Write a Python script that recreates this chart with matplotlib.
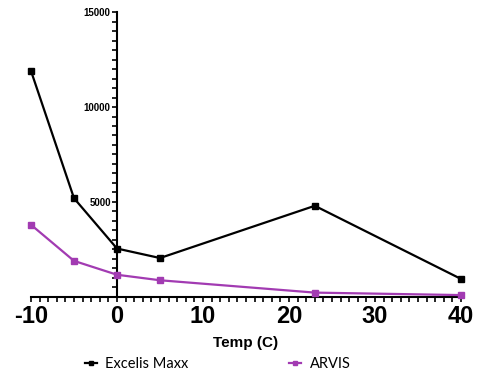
import matplotlib

matplotlib.use("Agg")
import matplotlib.pyplot as plt
from matplotlib.ticker import MultipleLocator

# values
temps = [-10, -5, 0, 5, 23, 40]
excelis = [11900, 5200, 2550, 2050, 4800, 950]
arvis = [3800, 1900, 1170, 880, 230, 100]
series_names = ["Excelis Maxx", "ARVIS"]
x_ticks = [-10, 0, 10, 20, 30, 40]
y_ticks = [5000, 10000, 15000]

plt.rcParams["font.family"] = ["Liberation Sans", "DejaVu Sans"]
plt.rcParams["axes.unicode_minus"] = False

fig = plt.figure(figsize=(4.85, 3.73), dpi=100)
ax = fig.add_axes([0.0639, 0.2038, 0.8866, 0.764])

ax.plot(temps, excelis, "-s", color="black", lw=1.6, ms=4, clip_on=False,
        label=series_names[0], zorder=3)
ax.plot(temps, arvis, "-s", color="#a23bb2", lw=1.6, ms=4, clip_on=False,
        label=series_names[1], zorder=3)

ax.set_xlim(-10, 40)
ax.set_ylim(0, 15000)
ax.spines["left"].set_position(("data", 0))
ax.spines["right"].set_visible(False)
ax.spines["top"].set_visible(False)
for s in ("left", "bottom"):
    ax.spines[s].set_linewidth(1.5)

ax.set_xticks(x_ticks)
ax.xaxis.set_minor_locator(MultipleLocator(1))
ax.set_yticks(y_ticks)
ax.yaxis.set_minor_locator(MultipleLocator(500))
ax.tick_params(axis="x", which="both", direction="out", length=3.5, width=1.2, labelsize=17, pad=2)
ax.tick_params(axis="y", which="both", direction="out", length=3.5, width=1.2, labelsize=7, pad=1)
for lbl in ax.get_xticklabels() + ax.get_yticklabels():
    lbl.set_fontweight("bold")

ax.set_xlabel("Temp (C)", fontsize=11, fontweight="bold", labelpad=6)

leg = fig.legend(loc="lower center", bbox_to_anchor=(0.449, -0.03), ncol=2, frameon=False,
                 handlelength=0.8, handletextpad=0.6, columnspacing=6.9, markerscale=0.8,
                 prop={"family": ["Lato", "DejaVu Sans"], "size": 10.5})

fig.savefig("out.png", dpi=100)
